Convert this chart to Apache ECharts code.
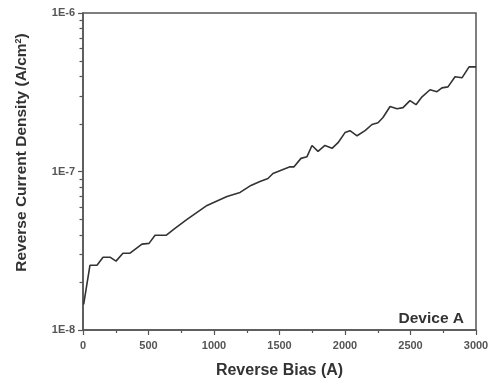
<!DOCTYPE html>
<html>
<head>
<meta charset="utf-8">
<script src="https://cdn.jsdelivr.net/npm/echarts@6/dist/echarts.min.js"></script>
<style>html,body{margin:0;padding:0;background:#fff}#c{width:494px;height:384px}</style>
</head>
<body>
<div id="c"></div>
<script>
const biasA = [5,53,107,153,206,252,305,359,450,504,550,634,702,794,947,1099,1199,1282,1351,1412,1450,1527,1580,1611,1664,1710,1748,1794,1847,1901,1947,2000,2038,2092,2153,2206,2252,2290,2344,2397,2443,2496,2542,2588,2649,2702,2740,2786,2840,2893,2947,2992,3000];
const currentDensity = [1.45e-8,2.56e-8,2.56e-8,2.88e-8,2.88e-8,2.72e-8,3.05e-8,3.05e-8,3.48e-8,3.52e-8,3.96e-8,3.96e-8,4.38e-8,4.99e-8,6.11e-8,6.96e-8,7.38e-8,8.17e-8,8.65e-8,9.03e-8,9.71e-8,1.03e-7,1.07e-7,1.07e-7,1.21e-7,1.24e-7,1.46e-7,1.34e-7,1.46e-7,1.40e-7,1.52e-7,1.76e-7,1.81e-7,1.68e-7,1.81e-7,1.98e-7,2.03e-7,2.19e-7,2.57e-7,2.49e-7,2.53e-7,2.80e-7,2.64e-7,2.96e-7,3.28e-7,3.19e-7,3.37e-7,3.42e-7,3.96e-7,3.90e-7,4.57e-7,4.57e-7,4.57e-7];
const xTicks = [0,500,1000,1500,2000,2500,3000];
const yMinorTicks = [2e-8,3e-8,4e-8,5e-8,6e-8,7e-8,8e-8,9e-8,2e-7,3e-7,4e-7,5e-7,6e-7,7e-7,8e-7,9e-7];
const deviceLabel = 'Device A';

const chart = echarts.init(document.getElementById('c'), null, {renderer:'canvas'});
const axisCol = '#555';
const font = 'Liberation Sans, Arial, sans-serif';
chart.setOption({
  animation:false,
  grid:{left:83,right:18,top:13,bottom:53,show:true,borderColor:axisCol,borderWidth:1.5},
  title:{text:deviceLabel,right:25,bottom:52,textStyle:{fontFamily:font,fontWeight:'bold',fontSize:15.5,color:'#333'}},
  xAxis:{type:'value',min:0,max:3000,interval:500,
    name:'Reverse Bias (A)',nameLocation:'middle',nameGap:33,
    nameTextStyle:{fontFamily:font,fontWeight:'bold',fontSize:16,color:'#333'},
    axisLine:{lineStyle:{color:axisCol,width:1.5}},
    axisTick:{show:true,length:5,lineStyle:{color:axisCol,width:1.2}},
    minorTick:{show:true,splitNumber:2,length:3,lineStyle:{color:axisCol,width:1.2}},
    splitLine:{show:false},
    axisLabel:{fontFamily:font,fontWeight:'bold',fontSize:11,color:'#555',margin:10,
      formatter:v=>String(v)}
  },
  yAxis:{type:'log',logBase:10,min:1e-8,max:1e-6,
    name:'Reverse Current Density (A/cm{sup|2})',nameLocation:'middle',nameGap:53,
    nameTextStyle:{fontFamily:font,fontWeight:'bold',fontSize:15.5,color:'#333',padding:[0,0,0,38],
      rich:{sup:{fontFamily:font,fontWeight:'bold',fontSize:9,color:'#333',verticalAlign:'top',padding:[0,0,7,0]}}},
    axisLine:{show:true,lineStyle:{color:axisCol,width:1.5}},
    axisTick:{show:true,length:5,lineStyle:{color:axisCol,width:1.2}},
    splitLine:{show:false},
    axisLabel:{fontFamily:font,fontWeight:'bold',fontSize:11,color:'#555',margin:8,
      formatter:v=>'1E'+Math.round(Math.log10(v))}
  },
  series:[{type:'line',data:biasA.map((x,i)=>[x,currentDensity[i]]),showSymbol:false,
    lineStyle:{color:'#333',width:1.6},clip:true}]
});
const x0 = chart.convertToPixel({xAxisIndex:0},0);
chart.setOption({graphic:yMinorTicks.map(v=>{
  const y = Math.round(chart.convertToPixel({yAxisIndex:0},v)) + 0.5;
  return {type:'line',z:100,shape:{x1:x0-3.5,y1:y,x2:x0,y2:y},style:{stroke:axisCol,lineWidth:1.2}};
})});
</script>
</body>
</html>
